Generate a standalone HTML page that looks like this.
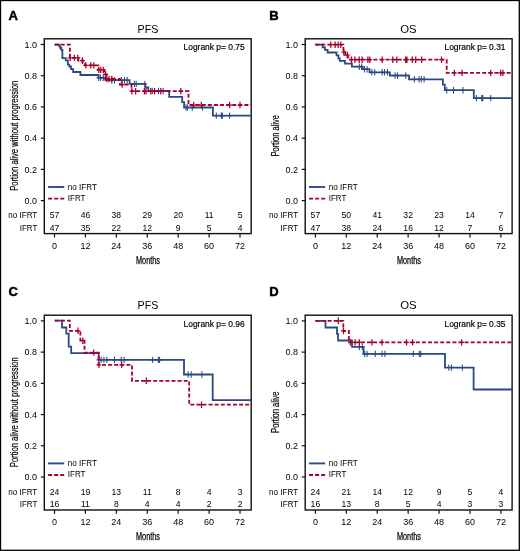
<!DOCTYPE html>
<html><head><meta charset="utf-8"><style>
html,body{margin:0;padding:0;background:#fff;}
svg{display:block;will-change:transform;}
text{font-family:"Liberation Sans", sans-serif;}
</style></head><body>
<svg width="520" height="551" viewBox="0 0 520 551">
<rect x="0" y="0" width="520" height="551" fill="#fff"/>
<g transform="translate(0.0,0.0)">
<text x="8.4" y="19.7" font-size="13.0" font-weight="bold" fill="#000" stroke="#000" stroke-width="0.5">A</text>
<text x="147.9" y="32.6" font-size="11.6" text-anchor="middle" fill="#000" textLength="20.8" lengthAdjust="spacingAndGlyphs">PFS</text>
<rect x="44.3" y="38.8" width="206.9" height="194.8" fill="none" stroke="#111" stroke-width="1.4"/>
<line x1="40.8" y1="44.50" x2="44.3" y2="44.50" stroke="#111" stroke-width="1.2"/>
<text x="37.1" y="47.70" font-size="9.0" text-anchor="end" fill="#000">1.0</text>
<line x1="40.8" y1="75.72" x2="44.3" y2="75.72" stroke="#111" stroke-width="1.2"/>
<text x="37.1" y="78.92" font-size="9.0" text-anchor="end" fill="#000">0.8</text>
<line x1="40.8" y1="106.94" x2="44.3" y2="106.94" stroke="#111" stroke-width="1.2"/>
<text x="37.1" y="110.14" font-size="9.0" text-anchor="end" fill="#000">0.6</text>
<line x1="40.8" y1="138.16" x2="44.3" y2="138.16" stroke="#111" stroke-width="1.2"/>
<text x="37.1" y="141.36" font-size="9.0" text-anchor="end" fill="#000">0.4</text>
<line x1="40.8" y1="169.38" x2="44.3" y2="169.38" stroke="#111" stroke-width="1.2"/>
<text x="37.1" y="172.58" font-size="9.0" text-anchor="end" fill="#000">0.2</text>
<line x1="40.8" y1="200.60" x2="44.3" y2="200.60" stroke="#111" stroke-width="1.2"/>
<text x="37.1" y="203.80" font-size="9.0" text-anchor="end" fill="#000">0.0</text>
<line x1="54.50" y1="233.6" x2="54.50" y2="237.4" stroke="#111" stroke-width="1.2"/>
<text x="54.50" y="248.7" font-size="9.0" text-anchor="middle" fill="#000">0</text>
<line x1="85.42" y1="233.6" x2="85.42" y2="237.4" stroke="#111" stroke-width="1.2"/>
<text x="85.42" y="248.7" font-size="9.0" text-anchor="middle" fill="#000">12</text>
<line x1="116.34" y1="233.6" x2="116.34" y2="237.4" stroke="#111" stroke-width="1.2"/>
<text x="116.34" y="248.7" font-size="9.0" text-anchor="middle" fill="#000">24</text>
<line x1="147.26" y1="233.6" x2="147.26" y2="237.4" stroke="#111" stroke-width="1.2"/>
<text x="147.26" y="248.7" font-size="9.0" text-anchor="middle" fill="#000">36</text>
<line x1="178.18" y1="233.6" x2="178.18" y2="237.4" stroke="#111" stroke-width="1.2"/>
<text x="178.18" y="248.7" font-size="9.0" text-anchor="middle" fill="#000">48</text>
<line x1="209.10" y1="233.6" x2="209.10" y2="237.4" stroke="#111" stroke-width="1.2"/>
<text x="209.10" y="248.7" font-size="9.0" text-anchor="middle" fill="#000">60</text>
<line x1="240.02" y1="233.6" x2="240.02" y2="237.4" stroke="#111" stroke-width="1.2"/>
<text x="240.02" y="248.7" font-size="9.0" text-anchor="middle" fill="#000">72</text>
<text x="148" y="263.6" font-size="10.2" text-anchor="middle" fill="#000" stroke="#000" stroke-width="0.25" textLength="24" lengthAdjust="spacingAndGlyphs">Months</text>
<text transform="translate(18.0,135.8) rotate(-90)" font-size="10.8" text-anchor="middle" fill="#000" stroke="#000" stroke-width="0.2" textLength="110" lengthAdjust="spacingAndGlyphs">Portion alive without progression</text>
<text x="244.6" y="50.25" font-size="8.9" text-anchor="end" fill="#000" stroke="#000" stroke-width="0.18" textLength="61.0" lengthAdjust="spacingAndGlyphs">Logrank p= 0.75</text>
<line x1="48.1" y1="187.0" x2="64.2" y2="187.0" stroke="#2a4a82" stroke-width="1.9"/>
<line x1="48.1" y1="198.6" x2="64.2" y2="198.6" stroke="#a8002a" stroke-width="1.9" stroke-dasharray="4 2.1"/>
<text x="67.8" y="189.9" font-size="9.0" fill="#000" textLength="29.1" lengthAdjust="spacingAndGlyphs">no IFRT</text>
<text x="67.8" y="201.1" font-size="9.0" fill="#000" textLength="17.6" lengthAdjust="spacingAndGlyphs">IFRT</text>
<text x="37.3" y="218.2" font-size="9.0" text-anchor="end" fill="#000" textLength="29.1" lengthAdjust="spacingAndGlyphs">no IFRT</text>
<text x="37.3" y="231.0" font-size="9.0" text-anchor="end" fill="#000" textLength="17.6" lengthAdjust="spacingAndGlyphs">IFRT</text>
<text x="54.50" y="218.3" font-size="8.6" text-anchor="middle" fill="#000">57</text>
<text x="54.50" y="230.9" font-size="8.6" text-anchor="middle" fill="#000">47</text>
<text x="85.42" y="218.3" font-size="8.6" text-anchor="middle" fill="#000">46</text>
<text x="85.42" y="230.9" font-size="8.6" text-anchor="middle" fill="#000">35</text>
<text x="116.34" y="218.3" font-size="8.6" text-anchor="middle" fill="#000">38</text>
<text x="116.34" y="230.9" font-size="8.6" text-anchor="middle" fill="#000">22</text>
<text x="147.26" y="218.3" font-size="8.6" text-anchor="middle" fill="#000">29</text>
<text x="147.26" y="230.9" font-size="8.6" text-anchor="middle" fill="#000">12</text>
<text x="178.18" y="218.3" font-size="8.6" text-anchor="middle" fill="#000">20</text>
<text x="178.18" y="230.9" font-size="8.6" text-anchor="middle" fill="#000">9</text>
<text x="209.10" y="218.3" font-size="8.6" text-anchor="middle" fill="#000">11</text>
<text x="209.10" y="230.9" font-size="8.6" text-anchor="middle" fill="#000">5</text>
<text x="240.02" y="218.3" font-size="8.6" text-anchor="middle" fill="#000">5</text>
<text x="240.02" y="230.9" font-size="8.6" text-anchor="middle" fill="#000">4</text>
<path d="M54.6,44.7H59.3V46.3H60.3V48.0H61.3V50.0H62.4V58.1H65.8V60.4H67.8V64.6H69.3V66.5H71.0V69.2H73.1V72.0H80.4V75.0H98.5V77.8H105.4V80.2H129.6V83.9H145.3V87.3H148.3V91.0H169.2V96.9H182.2V102.2H184.1V107.5H212.9V115.6H251.2" fill="none" stroke="#2a4a82" stroke-width="1.8" stroke-linejoin="miter" stroke-linecap="butt"/>
<path d="M98.70,74.60v6.4M96.30,77.80h4.8M100.60,74.60v6.4M98.20,77.80h4.8M103.30,74.60v6.4M100.90,77.80h4.8M111.80,77.00v6.4M109.40,80.20h4.8M114.50,77.00v6.4M112.10,80.20h4.8M121.40,77.00v6.4M119.00,80.20h4.8M124.50,77.00v6.4M122.10,80.20h4.8M127.20,77.00v6.4M124.80,80.20h4.8M134.40,80.70v6.4M132.00,83.90h4.8M136.20,80.70v6.4M133.80,83.90h4.8M144.80,80.70v6.4M142.40,83.90h4.8M152.30,87.80v6.4M149.90,91.00h4.8M158.50,87.80v6.4M156.10,91.00h4.8M163.10,87.80v6.4M160.70,91.00h4.8M186.00,104.30v6.4M183.60,107.50h4.8M187.50,104.30v6.4M185.10,107.50h4.8M192.30,104.30v6.4M189.90,107.50h4.8M202.50,104.30v6.4M200.10,107.50h4.8M216.30,112.40v6.4M213.90,115.60h4.8M221.30,112.40v6.4M218.90,115.60h4.8M222.30,112.40v6.4M219.90,115.60h4.8M229.60,112.40v6.4M227.20,115.60h4.8" fill="none" stroke="#2a4a82" stroke-width="1.05"/>
<path d="M54.6,44.7H69.9V57.9H78.3V60.5H82.8V63.0H84.8V65.4H98.5V69.9H104.2V74.3H106.8V79.0H119.8V84.5H131.5V91.2H188.5V105.0H251.2" fill="none" stroke="#a8002a" stroke-width="1.8" stroke-dasharray="4 2.1"/>
<path d="M70.10,54.70v6.4M67.70,57.90h4.8M74.40,54.70v6.4M72.00,57.90h4.8M77.80,54.70v6.4M75.40,57.90h4.8M82.40,57.30v6.4M80.00,60.50h4.8M85.80,62.20v6.4M83.40,65.40h4.8M90.80,62.20v6.4M88.40,65.40h4.8M93.80,62.20v6.4M91.40,65.40h4.8M98.80,66.70v6.4M96.40,69.90h4.8M100.80,66.70v6.4M98.40,69.90h4.8M103.30,66.70v6.4M100.90,69.90h4.8M105.50,71.10v6.4M103.10,74.30h4.8M106.90,75.80v6.4M104.50,79.00h4.8M109.10,75.80v6.4M106.70,79.00h4.8M111.80,75.80v6.4M109.40,79.00h4.8M122.20,81.30v6.4M119.80,84.50h4.8M131.90,88.00v6.4M129.50,91.20h4.8M135.60,88.00v6.4M133.20,91.20h4.8M144.40,88.00v6.4M142.00,91.20h4.8M146.00,88.00v6.4M143.60,91.20h4.8M150.80,88.00v6.4M148.40,91.20h4.8M154.60,88.00v6.4M152.20,91.20h4.8M160.80,88.00v6.4M158.40,91.20h4.8M180.80,88.00v6.4M178.40,91.20h4.8M193.75,101.80v6.4M191.35,105.00h4.8M201.30,101.80v6.4M198.90,105.00h4.8M229.60,101.80v6.4M227.20,105.00h4.8M240.00,101.80v6.4M237.60,105.00h4.8" fill="none" stroke="#a8002a" stroke-width="1.25"/>
</g>
<g transform="translate(260.9,0.0)">
<text x="8.4" y="19.7" font-size="13.0" font-weight="bold" fill="#000" stroke="#000" stroke-width="0.5">B</text>
<text x="147.6" y="32.6" font-size="11.6" text-anchor="middle" fill="#000" textLength="16.4" lengthAdjust="spacingAndGlyphs">OS</text>
<rect x="44.3" y="38.8" width="206.9" height="194.8" fill="none" stroke="#111" stroke-width="1.4"/>
<line x1="40.8" y1="44.50" x2="44.3" y2="44.50" stroke="#111" stroke-width="1.2"/>
<text x="37.1" y="47.70" font-size="9.0" text-anchor="end" fill="#000">1.0</text>
<line x1="40.8" y1="75.72" x2="44.3" y2="75.72" stroke="#111" stroke-width="1.2"/>
<text x="37.1" y="78.92" font-size="9.0" text-anchor="end" fill="#000">0.8</text>
<line x1="40.8" y1="106.94" x2="44.3" y2="106.94" stroke="#111" stroke-width="1.2"/>
<text x="37.1" y="110.14" font-size="9.0" text-anchor="end" fill="#000">0.6</text>
<line x1="40.8" y1="138.16" x2="44.3" y2="138.16" stroke="#111" stroke-width="1.2"/>
<text x="37.1" y="141.36" font-size="9.0" text-anchor="end" fill="#000">0.4</text>
<line x1="40.8" y1="169.38" x2="44.3" y2="169.38" stroke="#111" stroke-width="1.2"/>
<text x="37.1" y="172.58" font-size="9.0" text-anchor="end" fill="#000">0.2</text>
<line x1="40.8" y1="200.60" x2="44.3" y2="200.60" stroke="#111" stroke-width="1.2"/>
<text x="37.1" y="203.80" font-size="9.0" text-anchor="end" fill="#000">0.0</text>
<line x1="54.50" y1="233.6" x2="54.50" y2="237.4" stroke="#111" stroke-width="1.2"/>
<text x="54.50" y="248.7" font-size="9.0" text-anchor="middle" fill="#000">0</text>
<line x1="85.42" y1="233.6" x2="85.42" y2="237.4" stroke="#111" stroke-width="1.2"/>
<text x="85.42" y="248.7" font-size="9.0" text-anchor="middle" fill="#000">12</text>
<line x1="116.34" y1="233.6" x2="116.34" y2="237.4" stroke="#111" stroke-width="1.2"/>
<text x="116.34" y="248.7" font-size="9.0" text-anchor="middle" fill="#000">24</text>
<line x1="147.26" y1="233.6" x2="147.26" y2="237.4" stroke="#111" stroke-width="1.2"/>
<text x="147.26" y="248.7" font-size="9.0" text-anchor="middle" fill="#000">36</text>
<line x1="178.18" y1="233.6" x2="178.18" y2="237.4" stroke="#111" stroke-width="1.2"/>
<text x="178.18" y="248.7" font-size="9.0" text-anchor="middle" fill="#000">48</text>
<line x1="209.10" y1="233.6" x2="209.10" y2="237.4" stroke="#111" stroke-width="1.2"/>
<text x="209.10" y="248.7" font-size="9.0" text-anchor="middle" fill="#000">60</text>
<line x1="240.02" y1="233.6" x2="240.02" y2="237.4" stroke="#111" stroke-width="1.2"/>
<text x="240.02" y="248.7" font-size="9.0" text-anchor="middle" fill="#000">72</text>
<text x="148" y="263.6" font-size="10.2" text-anchor="middle" fill="#000" stroke="#000" stroke-width="0.25" textLength="24" lengthAdjust="spacingAndGlyphs">Months</text>
<text transform="translate(18.0,135.8) rotate(-90)" font-size="10.8" text-anchor="middle" fill="#000" stroke="#000" stroke-width="0.2" textLength="41.4" lengthAdjust="spacingAndGlyphs">Portion alive</text>
<text x="244.6" y="50.25" font-size="8.9" text-anchor="end" fill="#000" stroke="#000" stroke-width="0.18" textLength="61.0" lengthAdjust="spacingAndGlyphs">Logrank p= 0.31</text>
<line x1="48.1" y1="187.0" x2="64.2" y2="187.0" stroke="#2a4a82" stroke-width="1.9"/>
<line x1="48.1" y1="198.6" x2="64.2" y2="198.6" stroke="#a8002a" stroke-width="1.9" stroke-dasharray="4 2.1"/>
<text x="67.8" y="189.9" font-size="9.0" fill="#000" textLength="29.1" lengthAdjust="spacingAndGlyphs">no IFRT</text>
<text x="67.8" y="201.1" font-size="9.0" fill="#000" textLength="17.6" lengthAdjust="spacingAndGlyphs">IFRT</text>
<text x="37.3" y="218.2" font-size="9.0" text-anchor="end" fill="#000" textLength="29.1" lengthAdjust="spacingAndGlyphs">no IFRT</text>
<text x="37.3" y="231.0" font-size="9.0" text-anchor="end" fill="#000" textLength="17.6" lengthAdjust="spacingAndGlyphs">IFRT</text>
<text x="54.50" y="218.3" font-size="8.6" text-anchor="middle" fill="#000">57</text>
<text x="54.50" y="230.9" font-size="8.6" text-anchor="middle" fill="#000">47</text>
<text x="85.42" y="218.3" font-size="8.6" text-anchor="middle" fill="#000">50</text>
<text x="85.42" y="230.9" font-size="8.6" text-anchor="middle" fill="#000">38</text>
<text x="116.34" y="218.3" font-size="8.6" text-anchor="middle" fill="#000">41</text>
<text x="116.34" y="230.9" font-size="8.6" text-anchor="middle" fill="#000">24</text>
<text x="147.26" y="218.3" font-size="8.6" text-anchor="middle" fill="#000">32</text>
<text x="147.26" y="230.9" font-size="8.6" text-anchor="middle" fill="#000">16</text>
<text x="178.18" y="218.3" font-size="8.6" text-anchor="middle" fill="#000">23</text>
<text x="178.18" y="230.9" font-size="8.6" text-anchor="middle" fill="#000">12</text>
<text x="209.10" y="218.3" font-size="8.6" text-anchor="middle" fill="#000">14</text>
<text x="209.10" y="230.9" font-size="8.6" text-anchor="middle" fill="#000">7</text>
<text x="240.02" y="218.3" font-size="8.6" text-anchor="middle" fill="#000">7</text>
<text x="240.02" y="230.9" font-size="8.6" text-anchor="middle" fill="#000">6</text>
<path d="M54.3,44.7H61.7V47.3H64.1V49.9H66.7V52.5H75.6V55.3H77.5V58.4H78.9V60.8H84.1V63.6H91.0V66.7H101.6V69.2H108.6V72.3H128.9V75.5H148.1V79.3H182.0V84.6H183.9V90.2H212.9V98.1H251.2" fill="none" stroke="#2a4a82" stroke-width="1.8" stroke-linejoin="miter" stroke-linecap="butt"/>
<path d="M98.40,63.50v6.4M96.00,66.70h4.8M100.70,63.50v6.4M98.30,66.70h4.8M103.60,66.00v6.4M101.20,69.20h4.8M106.20,66.00v6.4M103.80,69.20h4.8M110.90,69.10v6.4M108.50,72.30h4.8M113.80,69.10v6.4M111.40,72.30h4.8M121.30,69.10v6.4M118.90,72.30h4.8M123.60,69.10v6.4M121.20,72.30h4.8M126.50,69.10v6.4M124.10,72.30h4.8M134.20,72.30v6.4M131.80,75.50h4.8M136.60,72.30v6.4M134.20,75.50h4.8M144.80,72.30v6.4M142.40,75.50h4.8M153.40,76.10v6.4M151.00,79.30h4.8M158.20,76.10v6.4M155.80,79.30h4.8M160.35,76.10v6.4M157.95,79.30h4.8M163.20,76.10v6.4M160.80,79.30h4.8M185.80,87.00v6.4M183.40,90.20h4.8M192.60,87.00v6.4M190.20,90.20h4.8M202.10,87.00v6.4M199.70,90.20h4.8M215.50,94.90v6.4M213.10,98.10h4.8M220.80,94.90v6.4M218.40,98.10h4.8M221.90,94.90v6.4M219.50,98.10h4.8M229.80,94.90v6.4M227.40,98.10h4.8" fill="none" stroke="#2a4a82" stroke-width="1.05"/>
<path d="M54.3,44.7H82.5V52.2H84.4V55.0H86.7V57.3H89.1V59.7H185.8V72.9H251.2" fill="none" stroke="#a8002a" stroke-width="1.8" stroke-dasharray="4 2.1"/>
<path d="M69.90,41.50v6.4M67.50,44.70h4.8M74.20,41.50v6.4M71.80,44.70h4.8M77.30,41.50v6.4M74.90,44.70h4.8M79.90,41.50v6.4M77.50,44.70h4.8M82.90,49.00v6.4M80.50,52.20h4.8M86.50,51.80v6.4M84.10,55.00h4.8M90.60,56.50v6.4M88.20,59.70h4.8M94.00,56.50v6.4M91.60,59.70h4.8M98.30,56.50v6.4M95.90,59.70h4.8M101.20,56.50v6.4M98.80,59.70h4.8M107.00,56.50v6.4M104.60,59.70h4.8M108.90,56.50v6.4M106.50,59.70h4.8M121.30,56.50v6.4M118.90,59.70h4.8M131.90,56.50v6.4M129.50,59.70h4.8M135.90,56.50v6.4M133.50,59.70h4.8M144.70,56.50v6.4M142.30,59.70h4.8M146.00,56.50v6.4M143.60,59.70h4.8M151.40,56.50v6.4M149.00,59.70h4.8M154.80,56.50v6.4M152.40,59.70h4.8M160.80,56.50v6.4M158.40,59.70h4.8M180.60,56.50v6.4M178.20,59.70h4.8M193.50,69.70v6.4M191.10,72.90h4.8M201.20,69.70v6.4M198.80,72.90h4.8M229.80,69.70v6.4M227.40,72.90h4.8M239.80,69.70v6.4M237.40,72.90h4.8M242.00,69.70v6.4M239.60,72.90h4.8" fill="none" stroke="#a8002a" stroke-width="1.25"/>
</g>
<g transform="translate(0.0,276.4)">
<text x="8.4" y="19.7" font-size="13.0" font-weight="bold" fill="#000" stroke="#000" stroke-width="0.5">C</text>
<text x="147.9" y="32.6" font-size="11.6" text-anchor="middle" fill="#000" textLength="20.8" lengthAdjust="spacingAndGlyphs">PFS</text>
<rect x="44.3" y="38.8" width="206.9" height="194.8" fill="none" stroke="#111" stroke-width="1.4"/>
<line x1="40.8" y1="44.50" x2="44.3" y2="44.50" stroke="#111" stroke-width="1.2"/>
<text x="37.1" y="47.70" font-size="9.0" text-anchor="end" fill="#000">1.0</text>
<line x1="40.8" y1="75.72" x2="44.3" y2="75.72" stroke="#111" stroke-width="1.2"/>
<text x="37.1" y="78.92" font-size="9.0" text-anchor="end" fill="#000">0.8</text>
<line x1="40.8" y1="106.94" x2="44.3" y2="106.94" stroke="#111" stroke-width="1.2"/>
<text x="37.1" y="110.14" font-size="9.0" text-anchor="end" fill="#000">0.6</text>
<line x1="40.8" y1="138.16" x2="44.3" y2="138.16" stroke="#111" stroke-width="1.2"/>
<text x="37.1" y="141.36" font-size="9.0" text-anchor="end" fill="#000">0.4</text>
<line x1="40.8" y1="169.38" x2="44.3" y2="169.38" stroke="#111" stroke-width="1.2"/>
<text x="37.1" y="172.58" font-size="9.0" text-anchor="end" fill="#000">0.2</text>
<line x1="40.8" y1="200.60" x2="44.3" y2="200.60" stroke="#111" stroke-width="1.2"/>
<text x="37.1" y="203.80" font-size="9.0" text-anchor="end" fill="#000">0.0</text>
<line x1="54.50" y1="233.6" x2="54.50" y2="237.4" stroke="#111" stroke-width="1.2"/>
<text x="54.50" y="248.7" font-size="9.0" text-anchor="middle" fill="#000">0</text>
<line x1="85.42" y1="233.6" x2="85.42" y2="237.4" stroke="#111" stroke-width="1.2"/>
<text x="85.42" y="248.7" font-size="9.0" text-anchor="middle" fill="#000">12</text>
<line x1="116.34" y1="233.6" x2="116.34" y2="237.4" stroke="#111" stroke-width="1.2"/>
<text x="116.34" y="248.7" font-size="9.0" text-anchor="middle" fill="#000">24</text>
<line x1="147.26" y1="233.6" x2="147.26" y2="237.4" stroke="#111" stroke-width="1.2"/>
<text x="147.26" y="248.7" font-size="9.0" text-anchor="middle" fill="#000">36</text>
<line x1="178.18" y1="233.6" x2="178.18" y2="237.4" stroke="#111" stroke-width="1.2"/>
<text x="178.18" y="248.7" font-size="9.0" text-anchor="middle" fill="#000">48</text>
<line x1="209.10" y1="233.6" x2="209.10" y2="237.4" stroke="#111" stroke-width="1.2"/>
<text x="209.10" y="248.7" font-size="9.0" text-anchor="middle" fill="#000">60</text>
<line x1="240.02" y1="233.6" x2="240.02" y2="237.4" stroke="#111" stroke-width="1.2"/>
<text x="240.02" y="248.7" font-size="9.0" text-anchor="middle" fill="#000">72</text>
<text x="148" y="263.6" font-size="10.2" text-anchor="middle" fill="#000" stroke="#000" stroke-width="0.25" textLength="24" lengthAdjust="spacingAndGlyphs">Months</text>
<text transform="translate(18.0,135.8) rotate(-90)" font-size="10.8" text-anchor="middle" fill="#000" stroke="#000" stroke-width="0.2" textLength="110" lengthAdjust="spacingAndGlyphs">Portion alive without progression</text>
<text x="244.6" y="50.25" font-size="8.9" text-anchor="end" fill="#000" stroke="#000" stroke-width="0.18" textLength="61.0" lengthAdjust="spacingAndGlyphs">Logrank p= 0.96</text>
<line x1="48.1" y1="187.0" x2="64.2" y2="187.0" stroke="#2a4a82" stroke-width="1.9"/>
<line x1="48.1" y1="198.6" x2="64.2" y2="198.6" stroke="#a8002a" stroke-width="1.9" stroke-dasharray="4 2.1"/>
<text x="67.8" y="189.9" font-size="9.0" fill="#000" textLength="29.1" lengthAdjust="spacingAndGlyphs">no IFRT</text>
<text x="67.8" y="201.1" font-size="9.0" fill="#000" textLength="17.6" lengthAdjust="spacingAndGlyphs">IFRT</text>
<text x="37.3" y="218.2" font-size="9.0" text-anchor="end" fill="#000" textLength="29.1" lengthAdjust="spacingAndGlyphs">no IFRT</text>
<text x="37.3" y="231.0" font-size="9.0" text-anchor="end" fill="#000" textLength="17.6" lengthAdjust="spacingAndGlyphs">IFRT</text>
<text x="54.50" y="218.3" font-size="8.6" text-anchor="middle" fill="#000">24</text>
<text x="54.50" y="230.9" font-size="8.6" text-anchor="middle" fill="#000">16</text>
<text x="85.42" y="218.3" font-size="8.6" text-anchor="middle" fill="#000">19</text>
<text x="85.42" y="230.9" font-size="8.6" text-anchor="middle" fill="#000">11</text>
<text x="116.34" y="218.3" font-size="8.6" text-anchor="middle" fill="#000">13</text>
<text x="116.34" y="230.9" font-size="8.6" text-anchor="middle" fill="#000">8</text>
<text x="147.26" y="218.3" font-size="8.6" text-anchor="middle" fill="#000">11</text>
<text x="147.26" y="230.9" font-size="8.6" text-anchor="middle" fill="#000">4</text>
<text x="178.18" y="218.3" font-size="8.6" text-anchor="middle" fill="#000">8</text>
<text x="178.18" y="230.9" font-size="8.6" text-anchor="middle" fill="#000">4</text>
<text x="209.10" y="218.3" font-size="8.6" text-anchor="middle" fill="#000">4</text>
<text x="209.10" y="230.9" font-size="8.6" text-anchor="middle" fill="#000">2</text>
<text x="240.02" y="218.3" font-size="8.6" text-anchor="middle" fill="#000">3</text>
<text x="240.02" y="230.9" font-size="8.6" text-anchor="middle" fill="#000">2</text>
<path d="M54.8,44.2H62.0V51.1H66.3V57.2H68.7V70.3H71.2V76.7H98.7V83.5H184.0V98.1H212.7V123.7H251.2" fill="none" stroke="#2a4a82" stroke-width="1.8" stroke-linejoin="miter" stroke-linecap="butt"/>
<path d="M98.90,80.30v6.4M96.50,83.50h4.8M101.10,80.30v6.4M98.70,83.50h4.8M103.90,80.30v6.4M101.50,83.50h4.8M106.80,80.30v6.4M104.40,83.50h4.8M114.50,80.30v6.4M112.10,83.50h4.8M121.25,80.30v6.4M118.85,83.50h4.8M124.10,80.30v6.4M121.70,83.50h4.8M152.70,80.30v6.4M150.30,83.50h4.8M158.40,80.30v6.4M156.00,83.50h4.8M159.60,80.30v6.4M157.20,83.50h4.8M188.10,94.90v6.4M185.70,98.10h4.8M191.20,94.90v6.4M188.80,98.10h4.8M201.90,94.90v6.4M199.50,98.10h4.8" fill="none" stroke="#2a4a82" stroke-width="1.05"/>
<path d="M54.8,44.2H69.8V54.4H80.4V64.3H84.5V76.2H98.7V88.5H132.0V104.4H189.2V128.3H251.2" fill="none" stroke="#a8002a" stroke-width="1.8" stroke-dasharray="4 2.1"/>
<path d="M78.00,51.20v6.4M75.60,54.40h4.8M82.80,61.10v6.4M80.40,64.30h4.8M93.80,73.00v6.4M91.40,76.20h4.8M98.90,85.30v6.4M96.50,88.50h4.8M121.70,85.30v6.4M119.30,88.50h4.8M146.30,101.20v6.4M143.90,104.40h4.8M201.50,125.10v6.4M199.10,128.30h4.8" fill="none" stroke="#a8002a" stroke-width="1.25"/>
</g>
<g transform="translate(260.9,276.4)">
<text x="8.4" y="19.7" font-size="13.0" font-weight="bold" fill="#000" stroke="#000" stroke-width="0.5">D</text>
<text x="147.6" y="32.6" font-size="11.6" text-anchor="middle" fill="#000" textLength="16.4" lengthAdjust="spacingAndGlyphs">OS</text>
<rect x="44.3" y="38.8" width="206.9" height="194.8" fill="none" stroke="#111" stroke-width="1.4"/>
<line x1="40.8" y1="44.50" x2="44.3" y2="44.50" stroke="#111" stroke-width="1.2"/>
<text x="37.1" y="47.70" font-size="9.0" text-anchor="end" fill="#000">1.0</text>
<line x1="40.8" y1="75.72" x2="44.3" y2="75.72" stroke="#111" stroke-width="1.2"/>
<text x="37.1" y="78.92" font-size="9.0" text-anchor="end" fill="#000">0.8</text>
<line x1="40.8" y1="106.94" x2="44.3" y2="106.94" stroke="#111" stroke-width="1.2"/>
<text x="37.1" y="110.14" font-size="9.0" text-anchor="end" fill="#000">0.6</text>
<line x1="40.8" y1="138.16" x2="44.3" y2="138.16" stroke="#111" stroke-width="1.2"/>
<text x="37.1" y="141.36" font-size="9.0" text-anchor="end" fill="#000">0.4</text>
<line x1="40.8" y1="169.38" x2="44.3" y2="169.38" stroke="#111" stroke-width="1.2"/>
<text x="37.1" y="172.58" font-size="9.0" text-anchor="end" fill="#000">0.2</text>
<line x1="40.8" y1="200.60" x2="44.3" y2="200.60" stroke="#111" stroke-width="1.2"/>
<text x="37.1" y="203.80" font-size="9.0" text-anchor="end" fill="#000">0.0</text>
<line x1="54.50" y1="233.6" x2="54.50" y2="237.4" stroke="#111" stroke-width="1.2"/>
<text x="54.50" y="248.7" font-size="9.0" text-anchor="middle" fill="#000">0</text>
<line x1="85.42" y1="233.6" x2="85.42" y2="237.4" stroke="#111" stroke-width="1.2"/>
<text x="85.42" y="248.7" font-size="9.0" text-anchor="middle" fill="#000">12</text>
<line x1="116.34" y1="233.6" x2="116.34" y2="237.4" stroke="#111" stroke-width="1.2"/>
<text x="116.34" y="248.7" font-size="9.0" text-anchor="middle" fill="#000">24</text>
<line x1="147.26" y1="233.6" x2="147.26" y2="237.4" stroke="#111" stroke-width="1.2"/>
<text x="147.26" y="248.7" font-size="9.0" text-anchor="middle" fill="#000">36</text>
<line x1="178.18" y1="233.6" x2="178.18" y2="237.4" stroke="#111" stroke-width="1.2"/>
<text x="178.18" y="248.7" font-size="9.0" text-anchor="middle" fill="#000">48</text>
<line x1="209.10" y1="233.6" x2="209.10" y2="237.4" stroke="#111" stroke-width="1.2"/>
<text x="209.10" y="248.7" font-size="9.0" text-anchor="middle" fill="#000">60</text>
<line x1="240.02" y1="233.6" x2="240.02" y2="237.4" stroke="#111" stroke-width="1.2"/>
<text x="240.02" y="248.7" font-size="9.0" text-anchor="middle" fill="#000">72</text>
<text x="148" y="263.6" font-size="10.2" text-anchor="middle" fill="#000" stroke="#000" stroke-width="0.25" textLength="24" lengthAdjust="spacingAndGlyphs">Months</text>
<text transform="translate(18.0,135.8) rotate(-90)" font-size="10.8" text-anchor="middle" fill="#000" stroke="#000" stroke-width="0.2" textLength="41.4" lengthAdjust="spacingAndGlyphs">Portion alive</text>
<text x="244.6" y="50.25" font-size="8.9" text-anchor="end" fill="#000" stroke="#000" stroke-width="0.18" textLength="61.0" lengthAdjust="spacingAndGlyphs">Logrank p= 0.35</text>
<line x1="48.1" y1="187.0" x2="64.2" y2="187.0" stroke="#2a4a82" stroke-width="1.9"/>
<line x1="48.1" y1="198.6" x2="64.2" y2="198.6" stroke="#a8002a" stroke-width="1.9" stroke-dasharray="4 2.1"/>
<text x="67.8" y="189.9" font-size="9.0" fill="#000" textLength="29.1" lengthAdjust="spacingAndGlyphs">no IFRT</text>
<text x="67.8" y="201.1" font-size="9.0" fill="#000" textLength="17.6" lengthAdjust="spacingAndGlyphs">IFRT</text>
<text x="37.3" y="218.2" font-size="9.0" text-anchor="end" fill="#000" textLength="29.1" lengthAdjust="spacingAndGlyphs">no IFRT</text>
<text x="37.3" y="231.0" font-size="9.0" text-anchor="end" fill="#000" textLength="17.6" lengthAdjust="spacingAndGlyphs">IFRT</text>
<text x="54.50" y="218.3" font-size="8.6" text-anchor="middle" fill="#000">24</text>
<text x="54.50" y="230.9" font-size="8.6" text-anchor="middle" fill="#000">16</text>
<text x="85.42" y="218.3" font-size="8.6" text-anchor="middle" fill="#000">21</text>
<text x="85.42" y="230.9" font-size="8.6" text-anchor="middle" fill="#000">13</text>
<text x="116.34" y="218.3" font-size="8.6" text-anchor="middle" fill="#000">14</text>
<text x="116.34" y="230.9" font-size="8.6" text-anchor="middle" fill="#000">8</text>
<text x="147.26" y="218.3" font-size="8.6" text-anchor="middle" fill="#000">12</text>
<text x="147.26" y="230.9" font-size="8.6" text-anchor="middle" fill="#000">5</text>
<text x="178.18" y="218.3" font-size="8.6" text-anchor="middle" fill="#000">9</text>
<text x="178.18" y="230.9" font-size="8.6" text-anchor="middle" fill="#000">4</text>
<text x="209.10" y="218.3" font-size="8.6" text-anchor="middle" fill="#000">5</text>
<text x="209.10" y="230.9" font-size="8.6" text-anchor="middle" fill="#000">3</text>
<text x="240.02" y="218.3" font-size="8.6" text-anchor="middle" fill="#000">4</text>
<text x="240.02" y="230.9" font-size="8.6" text-anchor="middle" fill="#000">3</text>
<path d="M54.5,44.4H64.6V51.1H76.1V57.4H77.1V64.1H91.1V70.4H102.6V77.5H184.1V91.2H212.7V113.1H251.2" fill="none" stroke="#2a4a82" stroke-width="1.8" stroke-linejoin="miter" stroke-linecap="butt"/>
<path d="M98.50,67.20v6.4M96.10,70.40h4.8M101.40,67.20v6.4M99.00,70.40h4.8M103.80,74.30v6.4M101.40,77.50h4.8M106.20,74.30v6.4M103.80,77.50h4.8M114.40,74.30v6.4M112.00,77.50h4.8M121.10,74.30v6.4M118.70,77.50h4.8M124.00,74.30v6.4M121.60,77.50h4.8M152.40,74.30v6.4M150.00,77.50h4.8M158.40,74.30v6.4M156.00,77.50h4.8M159.80,74.30v6.4M157.40,77.50h4.8M187.90,88.00v6.4M185.50,91.20h4.8M190.60,88.00v6.4M188.20,91.20h4.8M201.50,88.00v6.4M199.10,91.20h4.8" fill="none" stroke="#2a4a82" stroke-width="1.05"/>
<path d="M54.5,44.4H82.4V54.6H88.0V66.0H251.2" fill="none" stroke="#a8002a" stroke-width="1.8" stroke-dasharray="4 2.1"/>
<path d="M77.40,41.20v6.4M75.00,44.40h4.8M82.60,51.40v6.4M80.20,54.60h4.8M89.50,62.80v6.4M87.10,66.00h4.8M94.10,62.80v6.4M91.70,66.00h4.8M98.40,62.80v6.4M96.00,66.00h4.8M111.00,62.80v6.4M108.60,66.00h4.8M121.10,62.80v6.4M118.70,66.00h4.8M145.60,62.80v6.4M143.20,66.00h4.8M151.70,62.80v6.4M149.30,66.00h4.8M200.70,62.80v6.4M198.30,66.00h4.8" fill="none" stroke="#a8002a" stroke-width="1.25"/>
</g>
<rect x="0.5" y="0.5" width="518.8" height="549.8" fill="none" stroke="#000" stroke-width="1.3"/>
</svg>
</body></html>
